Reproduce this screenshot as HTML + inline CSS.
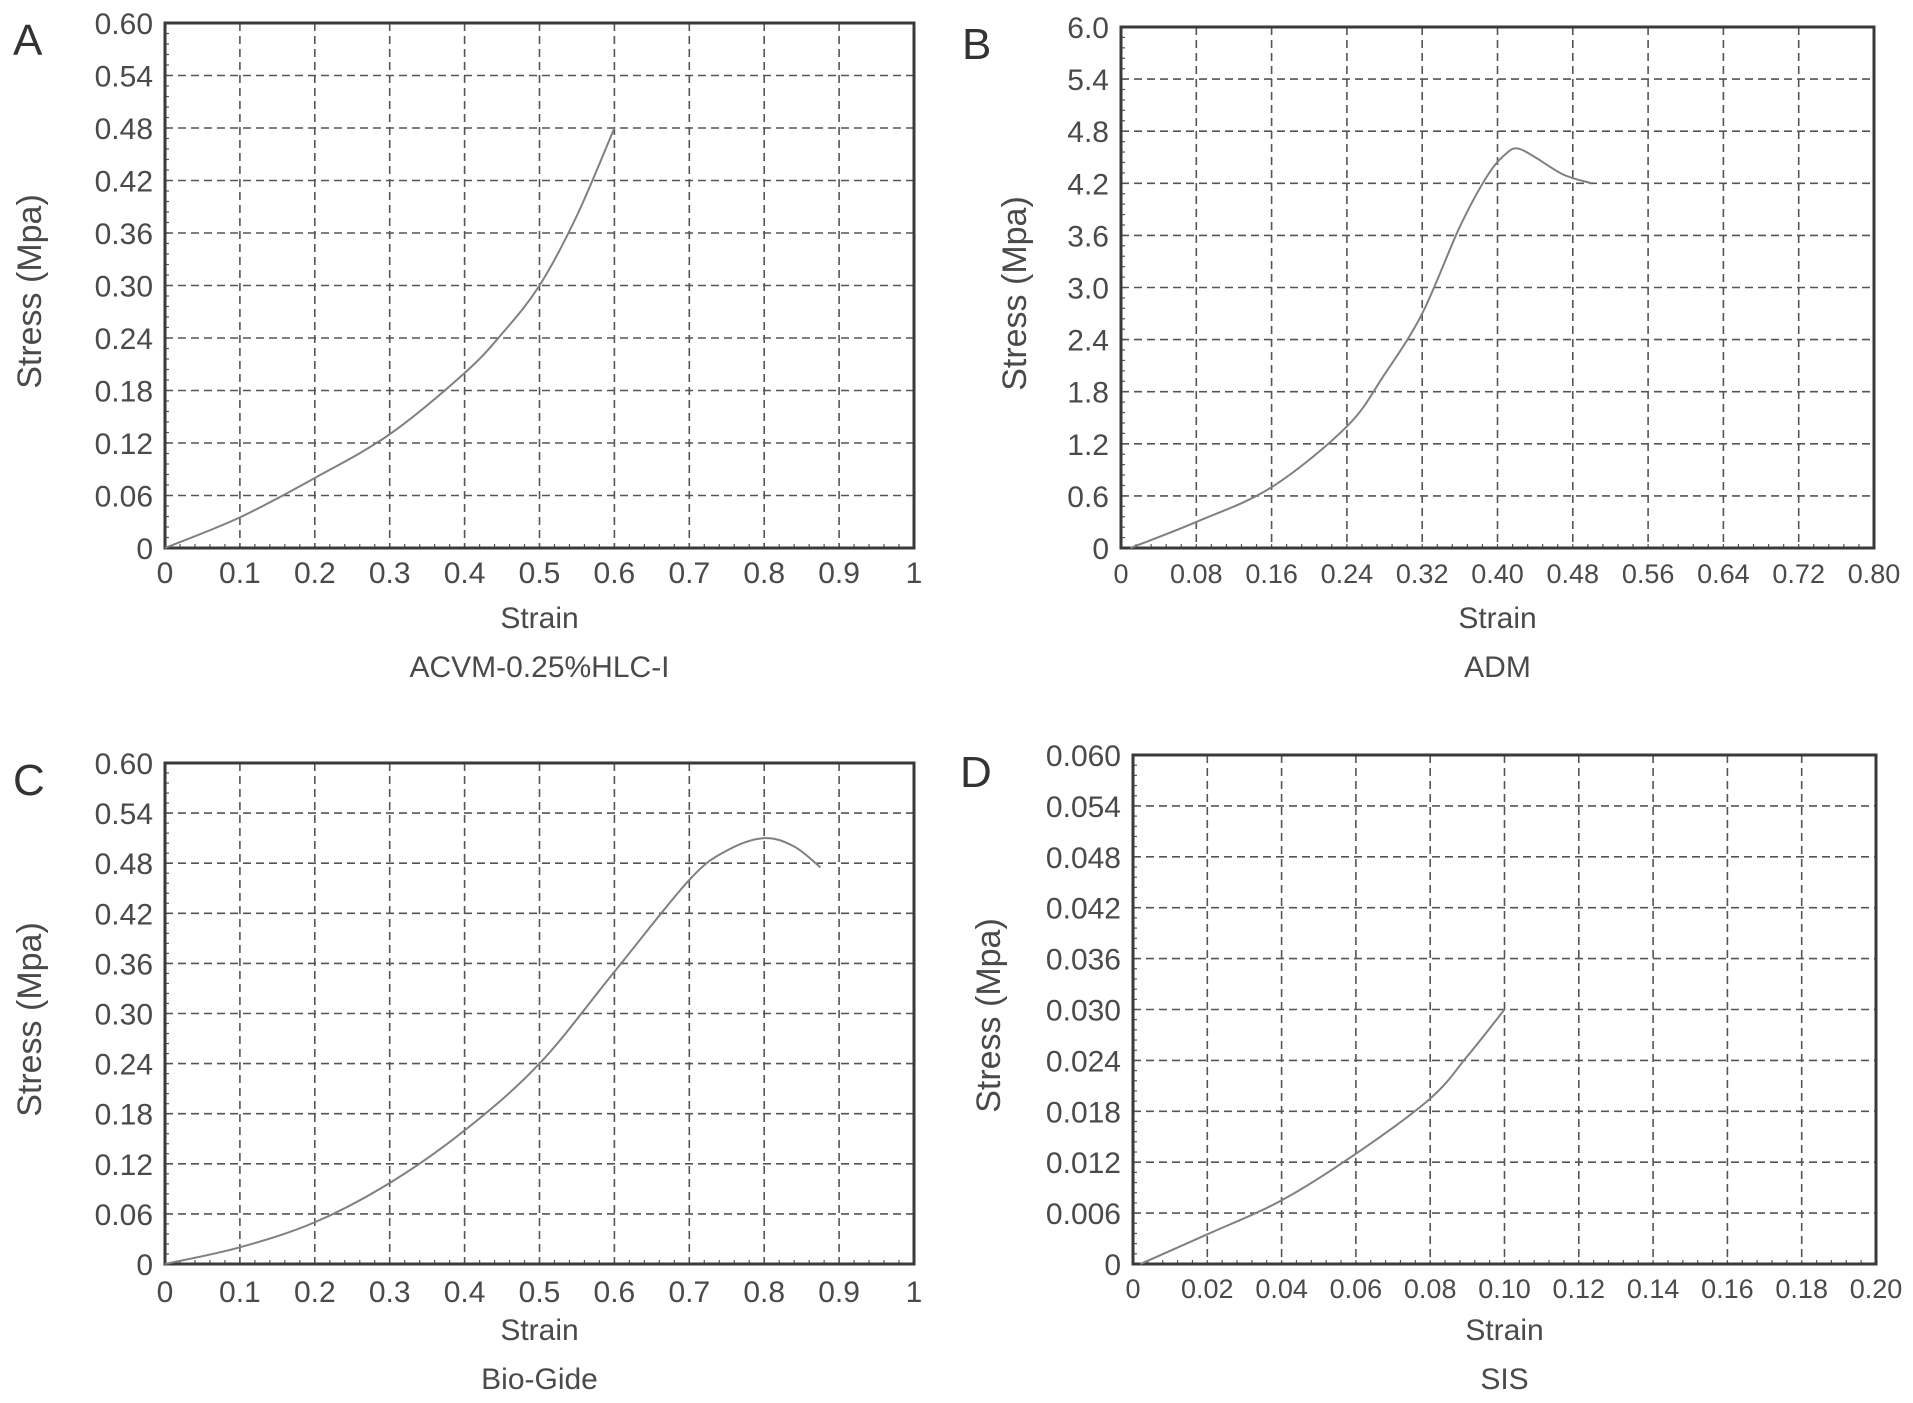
<!DOCTYPE html>
<html><head><meta charset="utf-8"><style>
html,body{margin:0;padding:0;background:#fff;}
svg{display:block;}
text{font-family:"Liberation Sans",sans-serif;fill:#4a4a4a;}
</style></head><body>
<svg id="fig" width="1913" height="1403" viewBox="0 0 1913 1403" xmlns="http://www.w3.org/2000/svg"></svg>
<script>
// Panel A data
const aStrain = [0, 0.1, 0.2, 0.3, 0.4, 0.45, 0.5, 0.55, 0.6];
const aStress = [0, 0.035, 0.08, 0.13, 0.2, 0.245, 0.30, 0.38, 0.48];
const aXTicks = ["0","0.1","0.2","0.3","0.4","0.5","0.6","0.7","0.8","0.9","1"];
const aYTicks = ["0","0.06","0.12","0.18","0.24","0.30","0.36","0.42","0.48","0.54","0.60"];
// Panel B data
const bStrain = [0.01, 0.08, 0.16, 0.24, 0.28, 0.32, 0.36, 0.39, 0.41, 0.422, 0.44, 0.47, 0.5];
const bStress = [0, 0.3, 0.7, 1.4, 2.0, 2.7, 3.7, 4.3, 4.55, 4.6, 4.5, 4.3, 4.2];
const bXTicks = ["0","0.08","0.16","0.24","0.32","0.40","0.48","0.56","0.64","0.72","0.80"];
const bYTicks = ["0","0.6","1.2","1.8","2.4","3.0","3.6","4.2","4.8","5.4","6.0"];
// Panel C data
const cStrain = [0, 0.1, 0.2, 0.3, 0.4, 0.5, 0.6, 0.7, 0.75, 0.8, 0.84, 0.875];
const cStress = [0, 0.02, 0.05, 0.097, 0.16, 0.24, 0.35, 0.46, 0.495, 0.51, 0.5, 0.475];
const cXTicks = ["0","0.1","0.2","0.3","0.4","0.5","0.6","0.7","0.8","0.9","1"];
const cYTicks = ["0","0.06","0.12","0.18","0.24","0.30","0.36","0.42","0.48","0.54","0.60"];
// Panel D data
const dStrain = [0.002, 0.02, 0.04, 0.06, 0.08, 0.09, 0.1];
const dStress = [0, 0.0035, 0.0075, 0.013, 0.0195, 0.0245, 0.030];
const dXTicks = ["0","0.02","0.04","0.06","0.08","0.10","0.12","0.14","0.16","0.18","0.20"];
const dYTicks = ["0","0.006","0.012","0.018","0.024","0.030","0.036","0.042","0.048","0.054","0.060"];

const NS = "http://www.w3.org/2000/svg";
const svg = document.getElementById('fig');
function mk(tag, attrs, parent){
  const e = document.createElementNS(NS, tag);
  for (const k in attrs) e.setAttribute(k, attrs[k]);
  (parent||svg).appendChild(e);
  return e;
}
function panel(o){
  const g = mk('g', {});
  
  
  const xMax = o.xMax, yMax = o.yMax;
  const sx = v => o.l + (v / xMax) * (o.r - o.l);
  const sy = v => o.b - (v / yMax) * (o.b - o.t);
  const n = 10;
  for (let i = 1; i < n; i++) {
    const x = o.l + i * (o.r - o.l) / n;
    const gl = mk('line', {x1:x, x2:x, y1:o.t, y2:o.b, stroke:'#555', 'stroke-width':1.6, 'stroke-dasharray':'8,5'}, g);
    
    
    const y = o.b - i * (o.b - o.t) / n;
    const hl = mk('line', {x1:o.l, x2:o.r, y1:y, y2:y, stroke:'#555', 'stroke-width':1.6, 'stroke-dasharray':'8,5'}, g);
    
    
  }
  for (let i = 1; i < 50; i++) {
    const x = o.l + i * (o.r - o.l) / 50;
    mk('line', {x1:x, x2:x, y1:o.b - 4, y2:o.b, stroke:'#555', 'stroke-width':1.2}, g);
    const y = o.b - i * (o.b - o.t) / 50;
    mk('line', {x1:o.l, x2:o.l + 4, y1:y, y2:y, stroke:'#555', 'stroke-width':1.2}, g);
  }
  const fr = mk('rect', {x:o.l, y:o.t, width:o.r - o.l, height:o.b - o.t, fill:'none', stroke:'#3a3a3a', 'stroke-width':3}, g);
  
  
  o.yTicks.forEach((t, i) => {
    const y = o.b - i * (o.b - o.t) / n;
    const tx = mk('text', {x:o.l - 12, y:y + 11, 'text-anchor':'end', 'font-size':30}, g);
    tx.textContent = t;
    
    
  });
  o.xTicks.forEach((t, i) => {
    const x = o.l + i * (o.r - o.l) / n;
    const tx = mk('text', {x:x, y:o.xLabY, 'text-anchor':'middle', 'font-size':o.xFs}, g);
    tx.textContent = t;
    
    
  });
  const xt = mk('text', {x:(o.l + o.r) / 2, y:o.strainY, 'text-anchor':'middle', 'font-size':30}, g);
  xt.textContent = 'Strain';
  
  
  const st = mk('text', {x:(o.l + o.r) / 2, y:o.subY, 'text-anchor':'middle', 'font-size':30}, g);
  st.textContent = o.sub;
  
  
  const cy = (o.t + o.b) / 2 + 6;
  const yt = mk('text', {x:o.yTitleX, y:cy, 'text-anchor':'middle', 'font-size':34, transform:'rotate(-90 ' + o.yTitleX + ' ' + cy + ')'}, g);
  yt.textContent = 'Stress (Mpa)';
  
  
  const pl = mk('text', {x:o.letterX, y:o.t + 32, 'font-size':44, style:'fill:#333'}, g);
  pl.textContent = o.id.toUpperCase();
  
  
  const P = o.xs.map((v, i) => [sx(v), sy(o.ys[i])]);
  let d = 'M' + P[0][0] + ',' + P[0][1];
  for (let i = 0; i < P.length - 1; i++) {
    const p0 = P[Math.max(0, i - 1)], p1 = P[i], p2 = P[i + 1], p3 = P[Math.min(P.length - 1, i + 2)];
    const c1 = [p1[0] + (p2[0] - p0[0]) / 6, p1[1] + (p2[1] - p0[1]) / 6];
    const c2 = [p2[0] - (p3[0] - p1[0]) / 6, p2[1] - (p3[1] - p1[1]) / 6];
    d += ' C' + c1.join(',') + ' ' + c2.join(',') + ' ' + p2.join(',');
  }
  const cv = mk('path', {d:d, fill:'none', stroke:'#808080', 'stroke-width':2}, g);
  
  
}
panel({id:'a', l:165, r:914, t:23, b:548, xMax:1, yMax:0.6, xs:aStrain, ys:aStress, xTicks:aXTicks, yTicks:aYTicks, xLabY:583, xFs:30, strainY:628, subY:677, sub:'ACVM-0.25%HLC-I', yTitleX:41, letterX:13});
panel({id:'b', l:1121, r:1874, t:27, b:548, xMax:0.8, yMax:6, xs:bStrain, ys:bStress, xTicks:bXTicks, yTicks:bYTicks, xLabY:583, xFs:27, strainY:628, subY:677, sub:'ADM', yTitleX:1026, letterX:962});
panel({id:'c', l:165, r:914, t:763, b:1264, xMax:1, yMax:0.6, xs:cStrain, ys:cStress, xTicks:cXTicks, yTicks:cYTicks, xLabY:1302, xFs:30, strainY:1340, subY:1389, sub:'Bio-Gide', yTitleX:41, letterX:13});
panel({id:'d', l:1133, r:1876, t:755, b:1264, xMax:0.2, yMax:0.06, xs:dStrain, ys:dStress, xTicks:dXTicks, yTicks:dYTicks, xLabY:1298, xFs:27, strainY:1340, subY:1389, sub:'SIS', yTitleX:1000, letterX:960});
</script>
</body></html>
